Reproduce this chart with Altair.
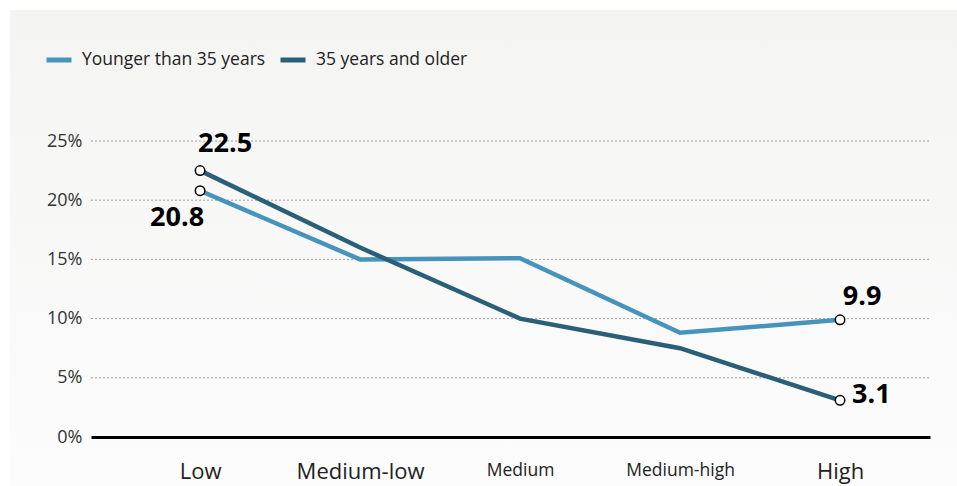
import altair as alt
import pandas as pd

categories = ["Low", "Medium-low", "Medium", "Medium-high", "High"]
series_names = ["Younger than 35 years", "35 years and older"]
younger = [20.8, 15.0, 15.1, 8.8, 9.9]
older = [22.5, 16.0, 10.0, 7.5, 3.1]
y_ticks = [0, 5, 10, 15, 20, 25]
colors = ["#4694bc", "#2a5f78"]

rows = []
for s, vals in zip(series_names, [younger, older]):
    for c, v in zip(categories, vals):
        rows.append({"category": c, "series": s, "value": v})
df = pd.DataFrame(rows)

W, H = 839, 296
PAD_L, PAD_T, PAD_R, PAD_B = 91, 141, 27, 49
FONT = "Open Sans"

x_scale = alt.Scale(type="point", padding=0.622, align=0.548)
x_enc = alt.X("category:N", sort=categories, scale=x_scale,
              axis=alt.Axis(title=None, ticks=False, domain=True, domainColor="#000000",
                            domainWidth=3, labelPadding=24, labelColor="#222222",
                            labelFont=FONT, labelAngle=0, grid=False, zindex=1,
                            labelFontSize={"condition": {"test": "datum.value == 'Medium' || datum.value == 'Medium-high'", "value": 17.5}, "value": 22}))
y_scale = alt.Scale(domain=[0, 25], nice=False)
y_enc = alt.Y("value:Q", scale=y_scale,
              axis=alt.Axis(title=None, values=y_ticks, grid=False, ticks=False, domain=False,
                            labelExpr="datum.value + '%'", labelFontSize=18, labelFont=FONT,
                            labelColor="#333333", labelPadding=9, zindex=1))

bg = alt.Chart(pd.DataFrame({"a": [0]})).mark_rect(
    color=alt.Gradient(gradient="linear", x1=0, y1=0, x2=0, y2=1,
                       stops=[alt.GradientStop(color="#f4f4f3", offset=0),
                              alt.GradientStop(color="#fcfcfc", offset=1)])
).encode(x=alt.value(-81), x2=alt.value(W + PAD_R), y=alt.value(-131), y2=alt.value(H + PAD_B))

grid = alt.Chart(pd.DataFrame({"v": y_ticks[1:]})).mark_rule(
    color="#a0a0a0", strokeWidth=1, strokeDash=[2, 2]
).encode(y=alt.Y("v:Q", scale=y_scale), x=alt.value(0), x2=alt.value(W))

lines = alt.Chart(df).mark_line(strokeWidth=4.5).encode(
    x=x_enc, y=y_enc,
    color=alt.Color("series:N", sort=series_names,
                    scale=alt.Scale(domain=series_names, range=colors),
                    legend=alt.Legend(title=None, orient="none", direction="horizontal",
                                      legendX=-47, legendY=-96, symbolType="stroke",
                                      symbolSize=625, symbolStrokeWidth=5, labelFontSize=17.5,
                                      labelFont=FONT, labelColor="#222222", labelOffset=8,
                                      labelLimit=0, columnPadding=4)),
    detail="series:N",
)

ends = df[df["category"].isin(["Low", "High"])]
points = alt.Chart(ends).mark_point(filled=True, fill="white", stroke="black",
                                    strokeWidth=1.5, size=90, opacity=1).encode(
    x=alt.X("category:N", sort=categories), y=alt.Y("value:Q"))

def label(cat, ser, dx, dy, align):
    d = df[(df["category"] == cat) & (df["series"] == ser)]
    return alt.Chart(d).mark_text(fontSize=27, fontWeight="bold", font=FONT, color="#000000",
                                  dx=dx, dy=dy, align=align, baseline="middle").encode(
        x=alt.X("category:N", sort=categories), y=alt.Y("value:Q"),
        text=alt.Text("value:Q", format=".1f"))

labels = [
    label("Low", series_names[1], 25, -27, "center"),
    label("Low", series_names[0], -23, 27, "center"),
    label("High", series_names[0], 22, -23, "center"),
    label("High", series_names[1], 12, -5, "left"),
]

chart = alt.layer(bg, grid, lines, points, *labels).properties(
    width=W, height=H,
    autosize=alt.AutoSizeParams(type="none"),
    padding={"left": PAD_L, "top": PAD_T, "right": PAD_R, "bottom": PAD_B},
    background="white",
).configure_view(stroke=None)

chart.save("out.html", embed_options={"renderer": "svg", "actions": False})
